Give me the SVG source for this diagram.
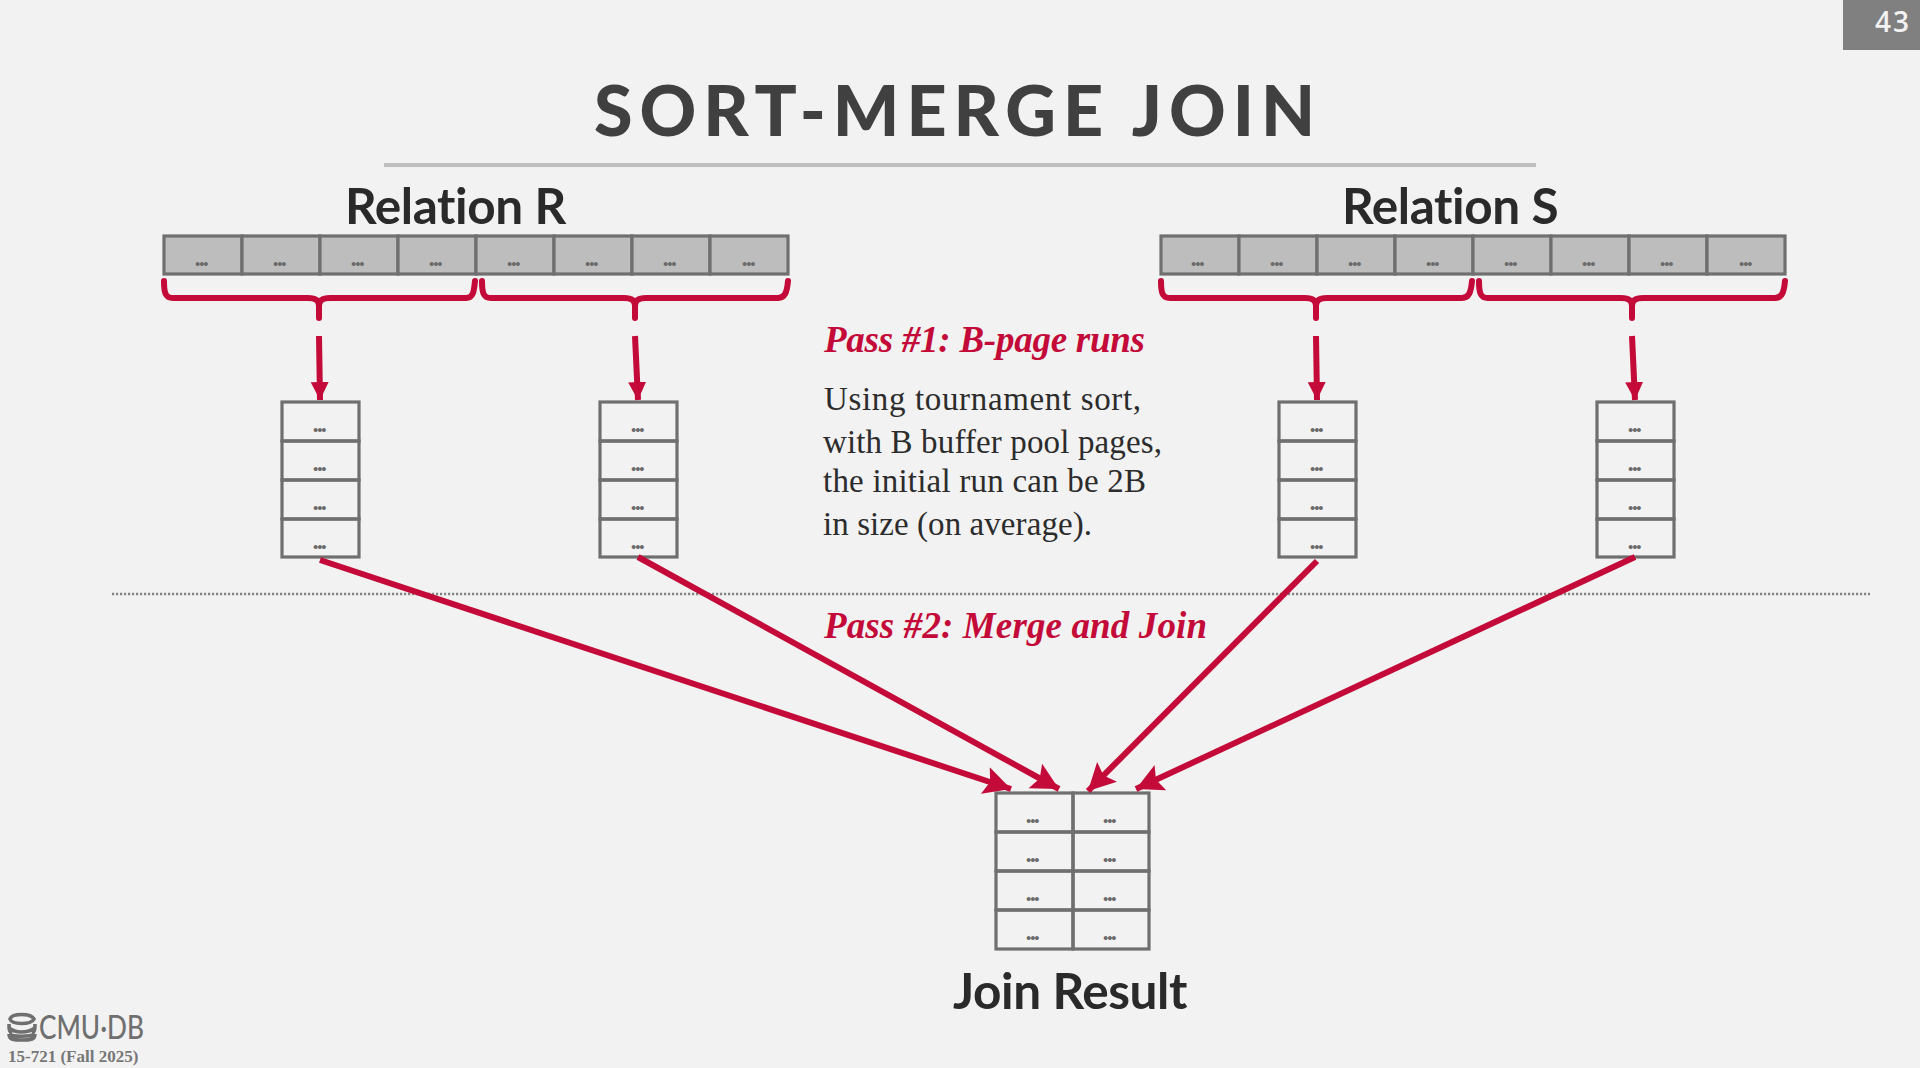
<svg xmlns="http://www.w3.org/2000/svg" width="1920" height="1068" viewBox="0 0 1920 1068">
<defs>
<marker id="ah" markerUnits="userSpaceOnUse" markerWidth="32" markerHeight="30" refX="27" refY="14" orient="auto"><path d="M0 0L27 14L0 28L5 14Z" fill="#c30a38"/></marker>
<marker id="ahv" markerUnits="userSpaceOnUse" markerWidth="20" markerHeight="20" refX="18" refY="9" orient="auto"><path d="M0 0L18 9L0 18Z" fill="#c30a38"/></marker>
</defs>
<style>
.sans{font-family:Lato,"Liberation Sans",sans-serif}
.serif{font-family:"Liberation Serif",serif}
.head{font-size:49.5px;font-weight:700;fill:#2a2a2a;letter-spacing:-.4px}
.pass{font-size:37px;font-weight:700;font-style:italic;fill:#c30a38}
.body{font-size:33px;fill:#2c2c2c}
.c{fill:none;stroke:#6f6f6f;stroke-width:3.2}
.g{fill:#bdbdbd;stroke:#6f6f6f;stroke-width:3.2}
.d{font-family:Lato,sans-serif;font-size:24px;font-weight:900;fill:#6a6a6a;text-anchor:middle;letter-spacing:-1.6px}
.br{fill:none;stroke:#c30a38;stroke-width:6;stroke-linecap:round;stroke-linejoin:round}
.ar{fill:none;stroke:#c30a38;stroke-width:6}
</style>
<rect width="1920" height="1068" fill="#f2f2f2"/>
<g id="page-number"><rect x="1843" y="0" width="77" height="50" fill="#808080"/><text x="1875" y="32" font-family="Open Sans,sans-serif" font-size="28" font-weight="600" fill="#f2f2f2" letter-spacing="2">43</text></g>
<g id="title"><text x="594" y="136" class="sans" font-size="70" font-weight="900" fill="#404040" letter-spacing="7">SORT-MERGE JOIN</text><rect x="384" y="163" width="1152" height="4" fill="#bfbfbf"/></g>
<g id="separator"><line x1="112" y1="594" x2="1870" y2="594" stroke="#858585" stroke-width="2.6" stroke-dasharray="2.2 1.8"/></g>
<g id="relation-r">
<text x="345" y="224" class="sans head">Relation R</text>
<rect x="164" y="236" width="78" height="38" class="g"/><rect x="242" y="236" width="78" height="38" class="g"/><rect x="320" y="236" width="78" height="38" class="g"/><rect x="398" y="236" width="78" height="38" class="g"/><rect x="476" y="236" width="78" height="38" class="g"/><rect x="554" y="236" width="78" height="38" class="g"/><rect x="632" y="236" width="78" height="38" class="g"/><rect x="710" y="236" width="78" height="38" class="g"/>
<text x="201" y="266" class="d">...</text><text x="279" y="266" class="d">...</text><text x="357" y="266" class="d">...</text><text x="435" y="266" class="d">...</text><text x="513" y="266" class="d">...</text><text x="591" y="266" class="d">...</text><text x="669" y="266" class="d">...</text><text x="748" y="266" class="d">...</text>
</g>
<g id="relation-s">
<text x="1342" y="224" class="sans head">Relation S</text>
<rect x="1161" y="236" width="78" height="38" class="g"/><rect x="1239" y="236" width="78" height="38" class="g"/><rect x="1317" y="236" width="78" height="38" class="g"/><rect x="1395" y="236" width="78" height="38" class="g"/><rect x="1473" y="236" width="78" height="38" class="g"/><rect x="1551" y="236" width="78" height="38" class="g"/><rect x="1629" y="236" width="78" height="38" class="g"/><rect x="1707" y="236" width="78" height="38" class="g"/>
<text x="1197" y="266" class="d">...</text><text x="1276" y="266" class="d">...</text><text x="1354" y="266" class="d">...</text><text x="1432" y="266" class="d">...</text><text x="1510" y="266" class="d">...</text><text x="1588" y="266" class="d">...</text><text x="1666" y="266" class="d">...</text><text x="1745" y="266" class="d">...</text>
</g>
<g id="run-r1"><rect x="282" y="402" width="77" height="39" class="c"/><rect x="282" y="441" width="77" height="39" class="c"/><rect x="282" y="480" width="77" height="39" class="c"/><rect x="282" y="519" width="77" height="38" class="c"/>
<text x="319" y="432" class="d">...</text><text x="319" y="471" class="d">...</text><text x="319" y="510" class="d">...</text><text x="319" y="549" class="d">...</text></g>
<g id="run-r2"><rect x="600" y="402" width="77" height="39" class="c"/><rect x="600" y="441" width="77" height="39" class="c"/><rect x="600" y="480" width="77" height="39" class="c"/><rect x="600" y="519" width="77" height="38" class="c"/>
<text x="637" y="432" class="d">...</text><text x="637" y="471" class="d">...</text><text x="637" y="510" class="d">...</text><text x="637" y="549" class="d">...</text></g>
<g id="run-s1"><rect x="1279" y="402" width="77" height="39" class="c"/><rect x="1279" y="441" width="77" height="39" class="c"/><rect x="1279" y="480" width="77" height="39" class="c"/><rect x="1279" y="519" width="77" height="38" class="c"/>
<text x="1316" y="432" class="d">...</text><text x="1316" y="471" class="d">...</text><text x="1316" y="510" class="d">...</text><text x="1316" y="549" class="d">...</text></g>
<g id="run-s2"><rect x="1597" y="402" width="77" height="39" class="c"/><rect x="1597" y="441" width="77" height="39" class="c"/><rect x="1597" y="480" width="77" height="39" class="c"/><rect x="1597" y="519" width="77" height="38" class="c"/>
<text x="1634" y="432" class="d">...</text><text x="1634" y="471" class="d">...</text><text x="1634" y="510" class="d">...</text><text x="1634" y="549" class="d">...</text></g>
<g id="join-result">
<rect x="996" y="793" width="77" height="39" class="c"/><rect x="1073" y="793" width="76" height="39" class="c"/><rect x="996" y="832" width="77" height="39" class="c"/><rect x="1073" y="832" width="76" height="39" class="c"/><rect x="996" y="871" width="77" height="39" class="c"/><rect x="1073" y="871" width="76" height="39" class="c"/><rect x="996" y="910" width="77" height="39" class="c"/><rect x="1073" y="910" width="76" height="39" class="c"/>
<text x="1032" y="823" class="d">...</text><text x="1109" y="823" class="d">...</text><text x="1032" y="862" class="d">...</text><text x="1109" y="862" class="d">...</text><text x="1032" y="901" class="d">...</text><text x="1109" y="901" class="d">...</text><text x="1032" y="940" class="d">...</text><text x="1109" y="940" class="d">...</text>
<text x="953" y="1009" class="sans head">Join Result</text>
</g>
<g id="pass-text">
<text x="824" y="352" class="serif pass" textLength="321">Pass #1: B-page runs</text>
<text x="824" y="410" class="serif body" textLength="317">Using tournament sort,</text>
<text x="823" y="453" class="serif body" textLength="339">with B buffer pool pages,</text>
<text x="823" y="492" class="serif body" textLength="323">the initial run can be 2B</text>
<text x="823" y="535" class="serif body" textLength="269">in size (on average).</text>
<text x="824" y="638" class="serif pass" textLength="383">Pass #2: Merge and Join</text>
</g>
<g id="connectors">
<path class="br" d="M164 281C164 292 165 298 173 298H308C315 298 319 300 319 306V318M319 306C319 300 323 298 330 298H466C473 298 474 292 475 281"/>
<path class="br" d="M482 281C482 292 483 298 491 298H624C631 298 635 300 635 306V318M635 306C635 300 639 298 646 298H778C785 298 787 292 788 281"/>
<path class="br" d="M1161 281C1161 292 1162 298 1170 298H1305C1312 298 1316 300 1316 306V318M1316 306C1316 300 1320 298 1327 298H1462C1469 298 1471 292 1472 281"/>
<path class="br" d="M1479 281C1479 292 1480 298 1488 298H1621C1628 298 1632 300 1632 306V318M1632 306C1632 300 1636 298 1643 298H1775C1782 298 1784 292 1785 281"/>
<line class="ar" x1="319" y1="336" x2="320" y2="400" marker-end="url(#ahv)"/>
<line class="ar" x1="635" y1="336" x2="638" y2="400" marker-end="url(#ahv)"/>
<line class="ar" x1="1316" y1="336" x2="1317" y2="400" marker-end="url(#ahv)"/>
<line class="ar" x1="1632" y1="336" x2="1635" y2="400" marker-end="url(#ahv)"/>
<line class="ar" x1="320" y1="560" x2="1011" y2="789" marker-end="url(#ah)"/>
<line class="ar" x1="638" y1="557" x2="1059" y2="789" marker-end="url(#ah)"/>
<line class="ar" x1="1317" y1="561" x2="1088" y2="791" marker-end="url(#ah)"/>
<line class="ar" x1="1635" y1="557" x2="1136" y2="789" marker-end="url(#ah)"/>
</g>
<g id="logo">
<path d="M10 1019C12 1013 31 1013 34 1019C31 1025 12 1025 10 1019ZM9 1028C13 1031 18 1032 21 1032C25 1032 31 1031 35 1028M9 1024C9 1028 9 1032 12 1033M35 1024C35 1028 35 1032 32 1033M9 1034C13 1037 30 1037 35 1034M9 1034C9 1040 14 1040 22 1040C30 1040 35 1040 35 1034" fill="none" stroke="#6f6f6f" stroke-width="3.6"/>
<text x="39" y="1039" font-family="Lato,sans-serif" font-size="33" font-weight="500" fill="#6f6f6f" textLength="105" lengthAdjust="spacingAndGlyphs">CMU·DB</text>
<text x="8" y="1062" class="serif" font-size="17" font-weight="700" fill="#777">15-721 (Fall 2025)</text>
</g>
</svg>
